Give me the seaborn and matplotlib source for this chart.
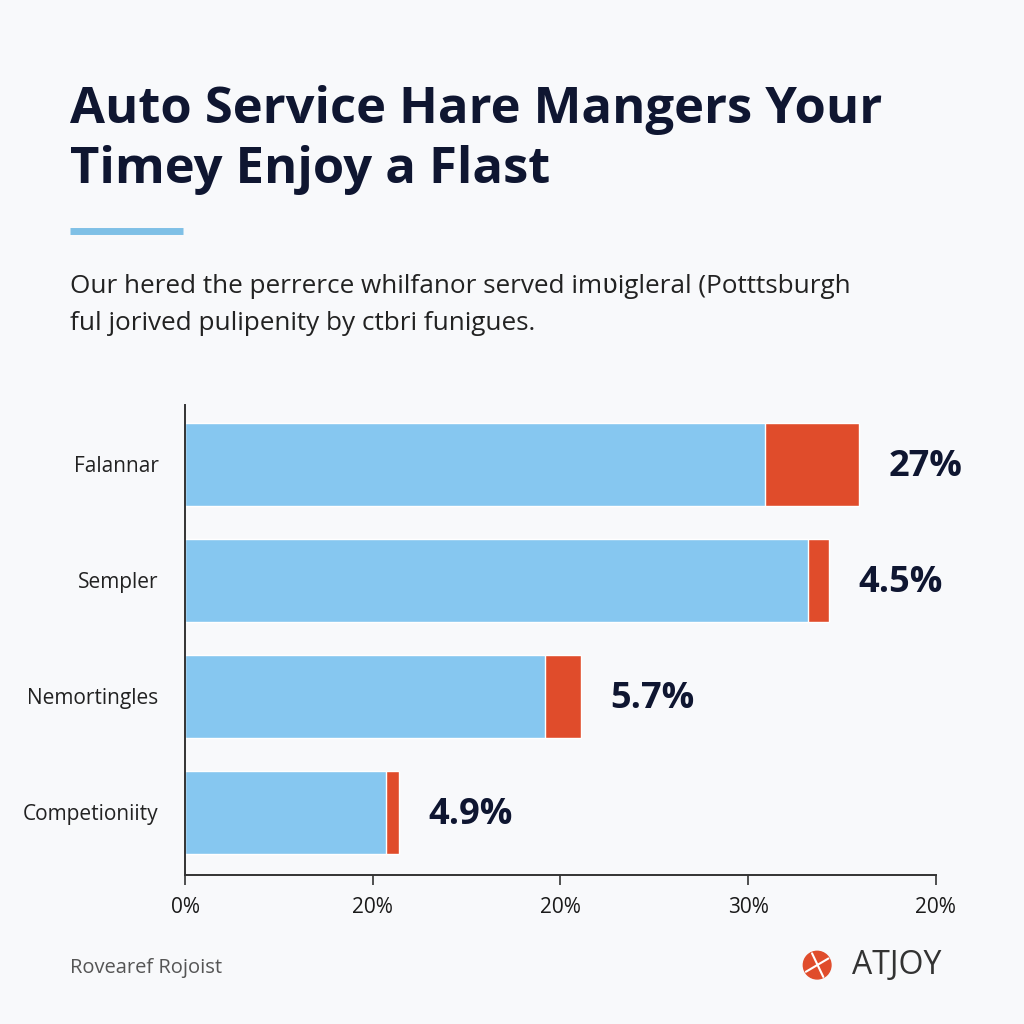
import matplotlib
matplotlib.use("Agg")
import matplotlib.pyplot as plt
import seaborn as sns
import pandas as pd
from matplotlib.patches import Circle

# data
categories = ["Falannar", "Sempler", "Nemortingles", "Competioniity"]
base_vals = [30.9, 33.2, 19.2, 10.7]
extra_vals = [5.0, 1.1, 1.9, 0.7]
value_labels = ["27%", "4.5%", "5.7%", "4.9%"]
tick_pos = [0, 10, 20, 30, 40]
tick_labels = ["0%", "20%", "20%", "30%", "20%"]

bg = "#f8f9fb"
blue = "#86c7f0"
red = "#e04c2b"
navy = "#0f1631"

sns.set_theme(style="white")
plt.rcParams["font.family"] = ["Open Sans", "DejaVu Sans"]

df = pd.DataFrame({"cat": categories, "base": base_vals, "extra": extra_vals})
df["total"] = df["base"] + df["extra"]

fig = plt.figure(figsize=(10.24, 10.24), dpi=100, facecolor=bg)
ax = fig.add_axes([0.1807, 0.1455, 0.7333, 0.459])
ax.set_facecolor(bg)

sns.barplot(data=df, y="cat", x="total", color=red, orient="h", width=0.716,
            saturation=1, ax=ax)
sns.barplot(data=df, y="cat", x="base", color=blue, orient="h", width=0.716,
            saturation=1, ax=ax)

for i, (tot, lab) in enumerate(zip(df["total"], value_labels)):
    ax.annotate(lab, (tot, i), xytext=(21, -2), textcoords="offset points",
                ha="left", va="center", fontsize=26, fontweight="bold", color=navy)

ax.set_xlim(0, 40)
ax.set_ylim(3.54, -0.513)
ax.set_xticks(tick_pos)
ax.set_xticklabels(tick_labels, fontsize=15, color="#1a1a1a")
ax.tick_params(axis="x", length=7, width=1.2, color="#333333", pad=9, bottom=True)
ax.tick_params(axis="y", length=0, pad=19, labelsize=15, labelcolor="#222222")
ax.set_xlabel("")
ax.set_ylabel("")
for s in ["top", "right"]:
    ax.spines[s].set_visible(False)
for s in ["left", "bottom"]:
    ax.spines[s].set_color("#333333")
    ax.spines[s].set_linewidth(1.4)

# header
fig.text(0.068, 0.880, "Auto Service Hare Mangers Your", fontsize=36.5, fontweight="bold",
         color=navy, va="baseline")
fig.text(0.068, 0.821, "Timey Enjoy a Flast", fontsize=36.5, fontweight="bold",
         color=navy, va="baseline")
fig.add_artist(plt.Line2D([0.068, 0.179], [0.774, 0.774], color="#7fc0e6", lw=5,
                          solid_capstyle="butt"))
fig.text(0.068, 0.714, "Our hered the perrerce whilfanor served imʋigleral (Potttsburgh",
         fontsize=18.8, color="#222222", va="baseline")
fig.text(0.068, 0.678, "ful jorived pulipenity by ctbri funigues.",
         fontsize=18.8, color="#222222", va="baseline")

# footer
fig.text(0.068, 0.055, "Rovearef Rojoist", fontsize=14.5, color="#555555", va="center")
fig.add_artist(Circle((0.798, 0.0575), 0.0135, transform=fig.transFigure, color=red))
fig.add_artist(plt.Line2D([0.787, 0.809], [0.051, 0.064], color="white", lw=1.5))
fig.add_artist(plt.Line2D([0.793, 0.804], [0.069, 0.046], color="white", lw=1.5))
fig.text(0.832, 0.0575, "ATJOY", fontsize=23, color="#333333", va="center")

fig.savefig("out.png", dpi=100, facecolor=bg)
